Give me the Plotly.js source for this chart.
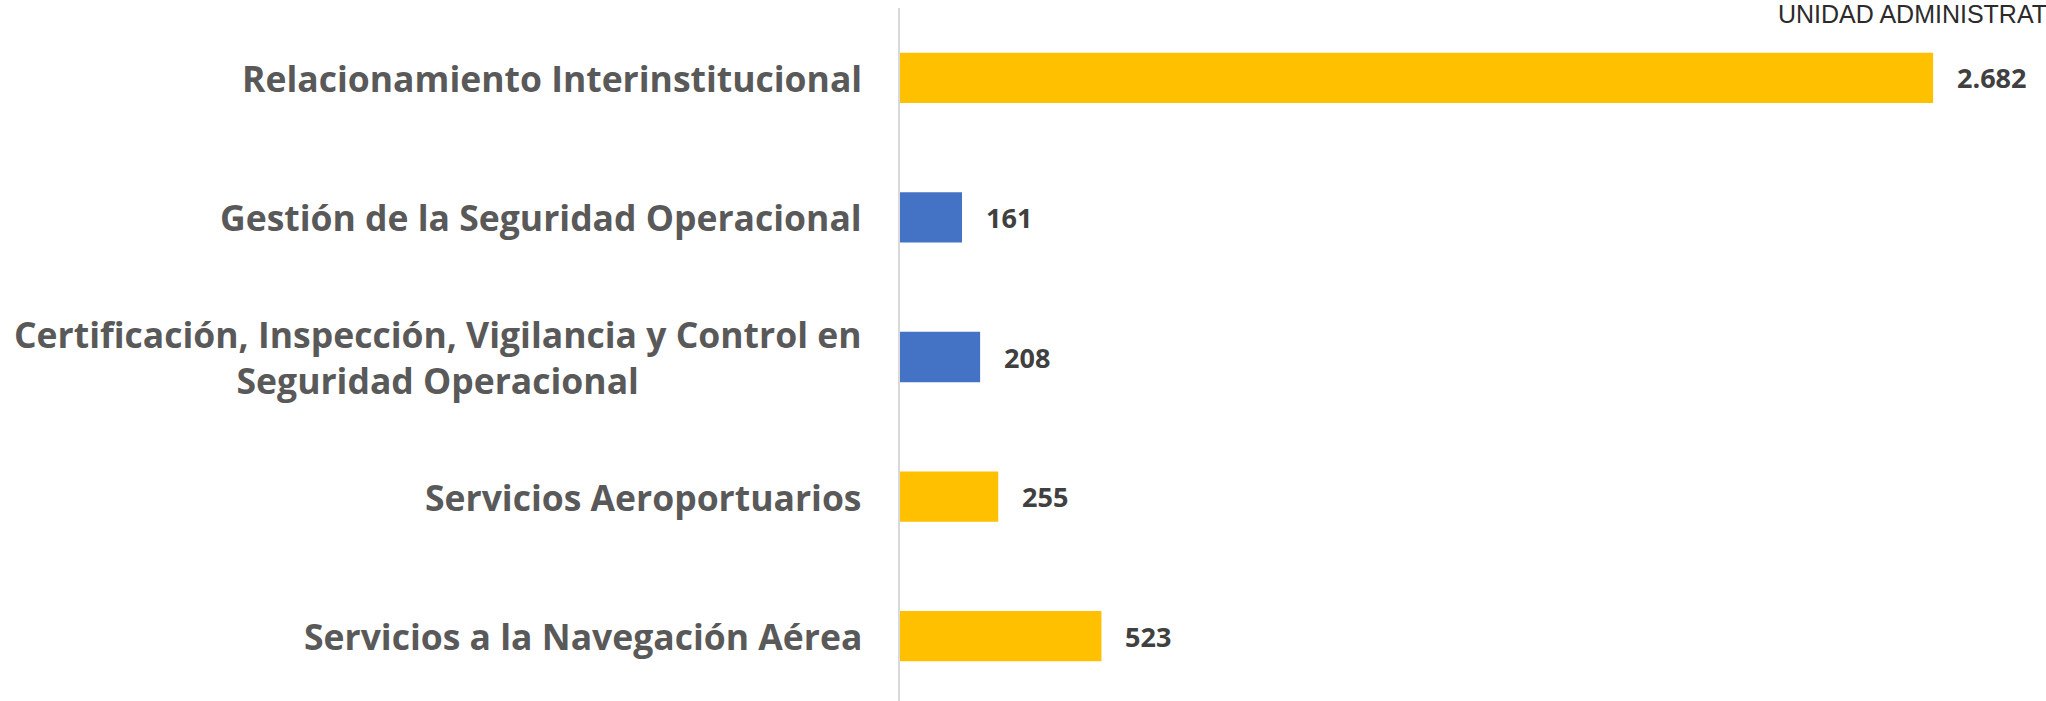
<!DOCTYPE html>
<html>
<head>
<meta charset="utf-8">
<script src="https://cdn.plot.ly/plotly-3.0.1.min.js"></script>
<style>
html,body{margin:0;padding:0;background:#fff;overflow:hidden;}
#chart{width:2046px;height:706px;}
</style>
</head>
<body>
<div id="chart"></div>
<script>
const categories = [
  "Relacionamiento Interinstitucional",
  "Gestión de la Seguridad Operacional",
  "Certificación, Inspección, Vigilancia y Control en<br>Seguridad Operacional",
  "Servicios Aeroportuarios",
  "Servicios a la Navegación Aérea"
];
const values = [2682, 161, 208, 255, 523];
const barColors = ["#FFC000", "#4472C4", "#4472C4", "#FFC000", "#FFC000"];
const headerText = "UNIDAD ADMINISTRAT";

const trace = {
  type: "bar",
  orientation: "h",
  x: values,
  y: categories,
  marker: {color: barColors},
  hoverinfo: "none"
};

const valueLabels = values.map((v, i) => ({
  x: v, y: categories[i], xref: "x", yref: "y",
  text: v.toLocaleString("de-DE"),
  showarrow: false, xanchor: "left", yanchor: "middle", xshift: 22,
  font: {family: "Open Sans", size: 27, color: "#404040", weight: 700}
}));

const categoryLabels = categories.map(c => ({
  x: 0, y: c, xref: "paper", yref: "y",
  text: c, showarrow: false, xanchor: "right", yanchor: "middle",
  align: "center", xshift: -36,
  font: {family: "Open Sans", size: 35.5, color: "#595959", weight: 700}
}));

const layout = {
  width: 2046, height: 706,
  margin: {l: 900, r: 0, t: 8, b: 0},
  paper_bgcolor: "#ffffff", plot_bgcolor: "#ffffff",
  bargap: 0.64,
  showlegend: false,
  separators: ",.",
  xaxis: {range: [0, 2975], visible: false, fixedrange: true},
  yaxis: {
    type: "category", autorange: "reversed",
    showline: true, linecolor: "#d9d9d9", linewidth: 2,
    showgrid: false, zeroline: false, ticks: "", showticklabels: false
  },
  annotations: valueLabels.concat(categoryLabels, [{
    xref: "paper", yref: "paper", x: 1, y: 0.991,
    xanchor: "right", yanchor: "middle", showarrow: false,
    xshift: 2, borderpad: 0,
    text: headerText,
    font: {family: "Liberation Sans, Arial", size: 25, color: "#2b2b2b"}
  }])
};

Plotly.newPlot("chart", [trace], layout, {staticPlot: true, displayModeBar: false});
</script>
</body>
</html>
